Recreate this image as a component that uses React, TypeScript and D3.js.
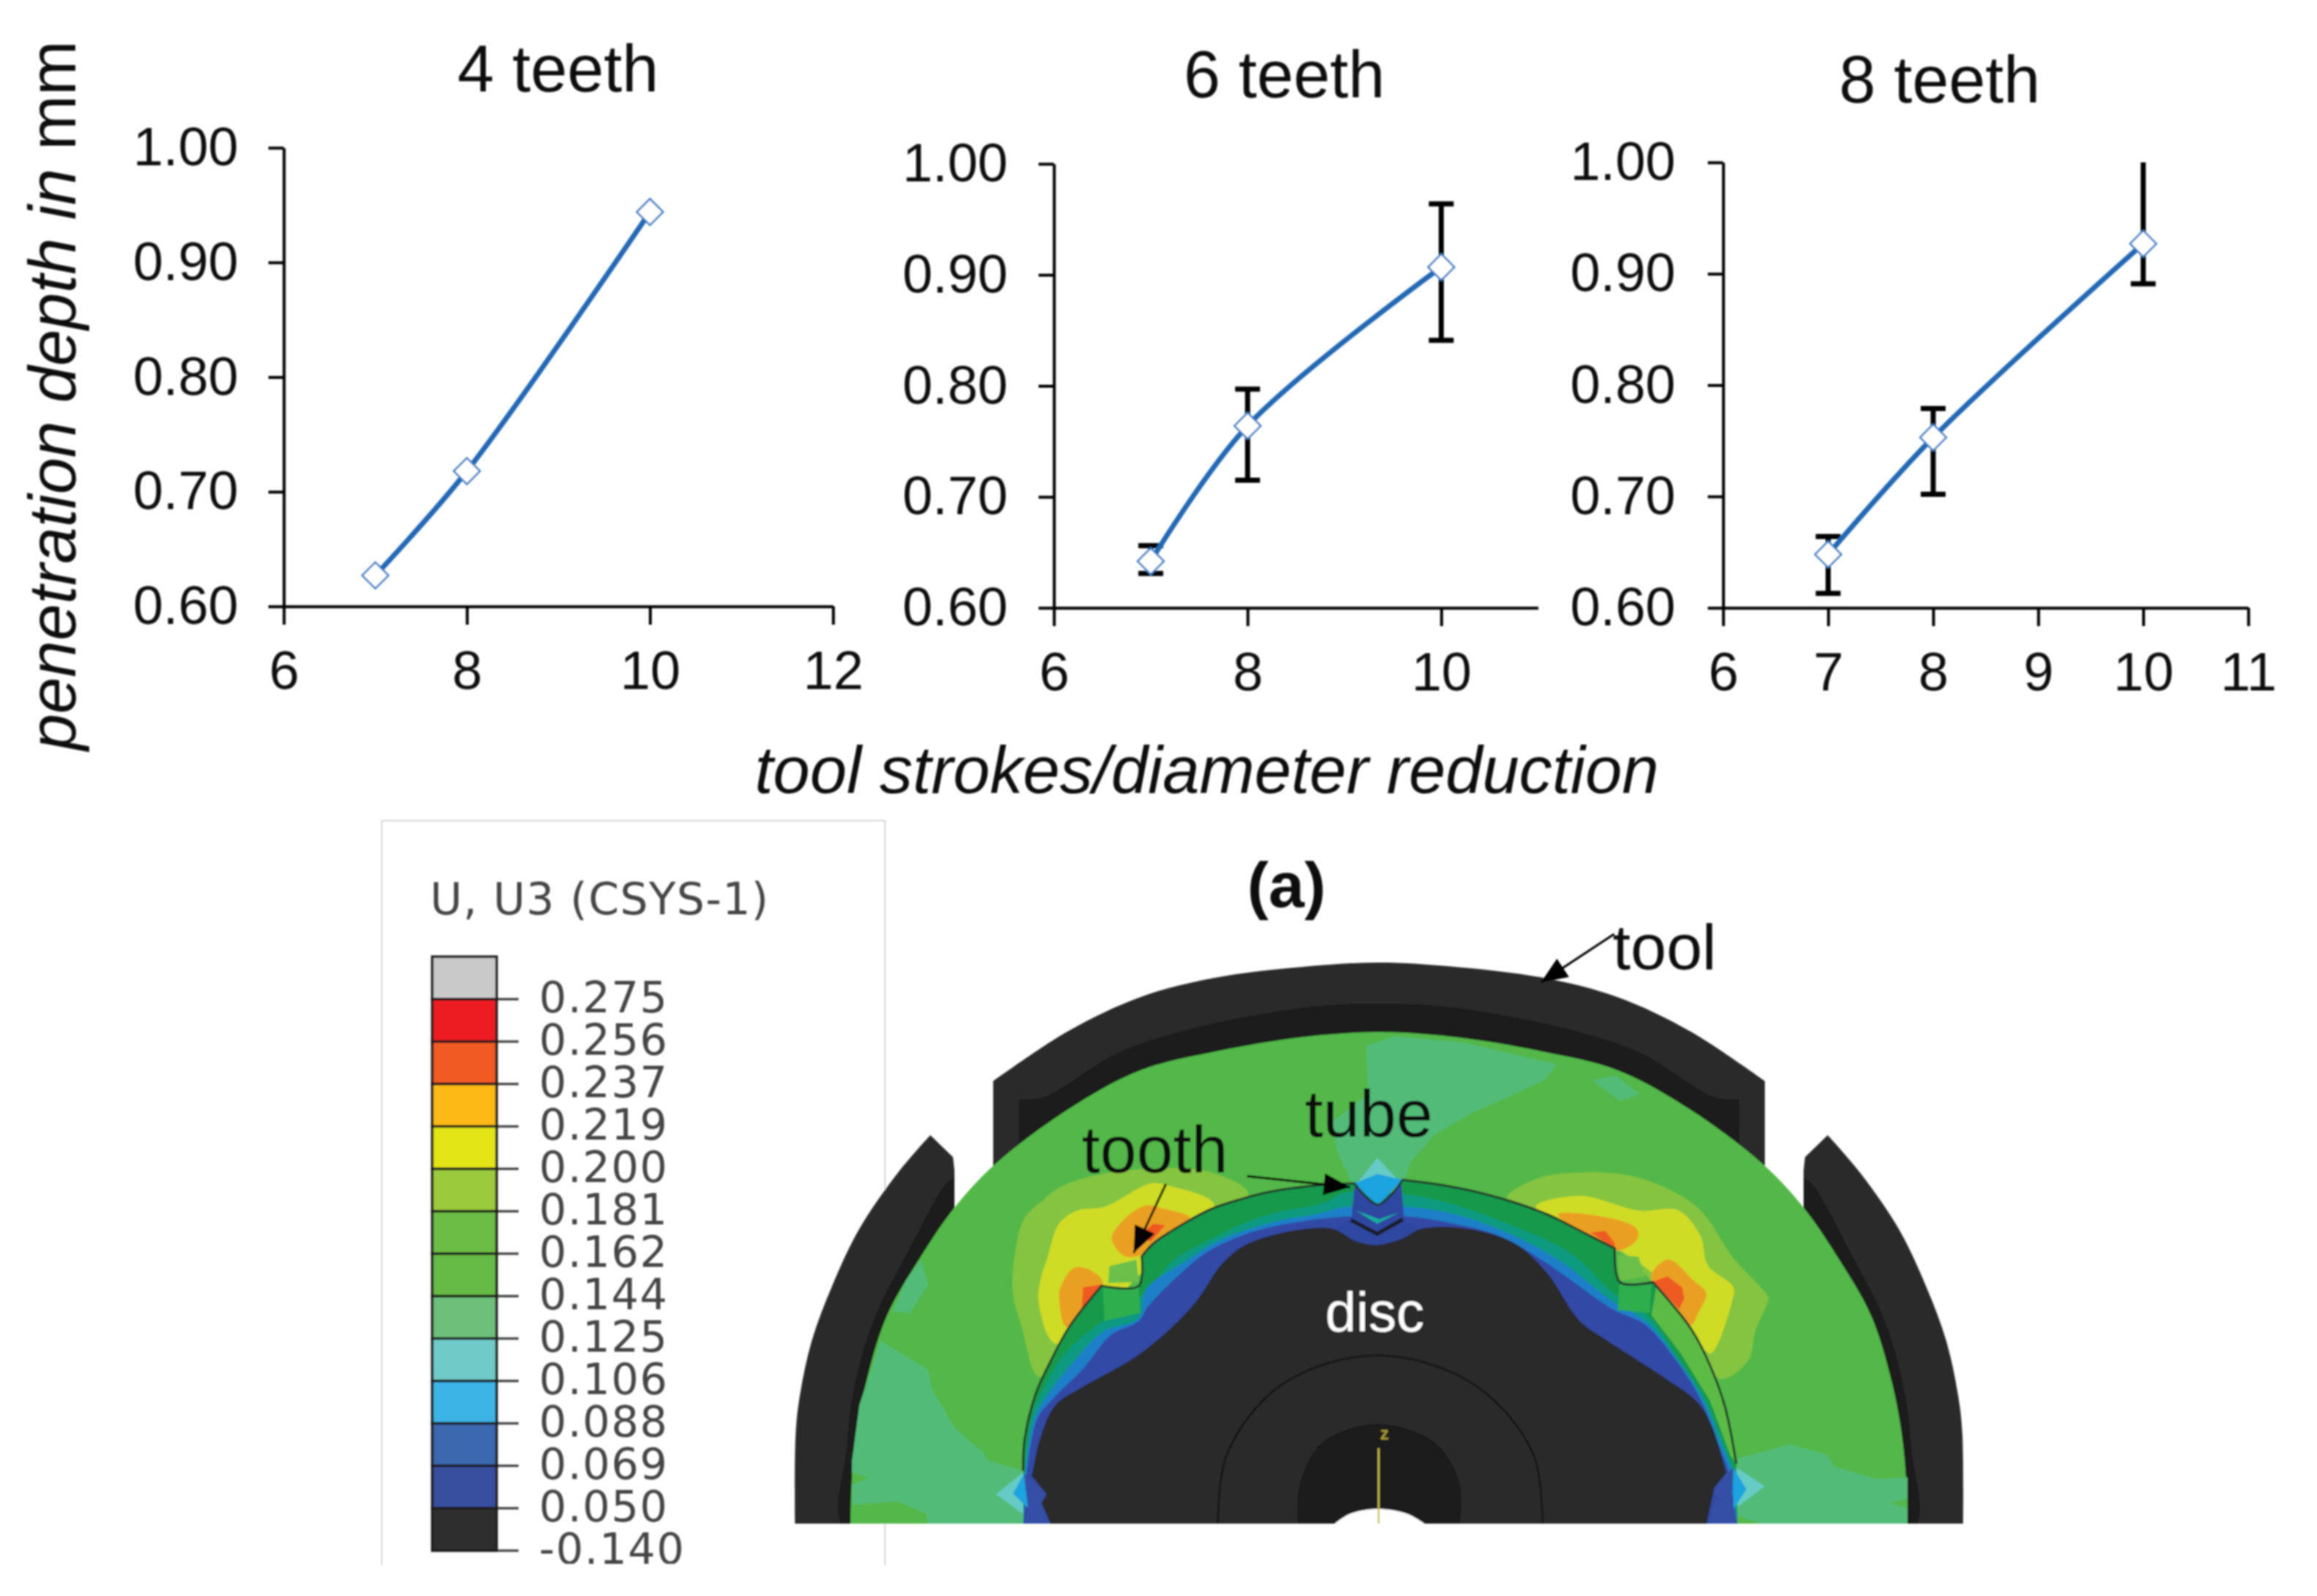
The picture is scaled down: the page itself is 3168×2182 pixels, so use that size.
import { useEffect, useRef } from "react";
import * as d3 from "d3";

const width = 3168;
const height = 2182;
const font = "'Liberation Sans', Arial, sans-serif";
const blue = "#2468b4";

// chart values
const strokes = [7, 8, 10];
const depth4 = [0.627, 0.718, 0.944];
const depth6 = [0.642, 0.764, 0.907];
const depth8 = [0.648, 0.753, 0.927];
const low6 = [0.631, 0.715, 0.841];
const high6 = [0.656, 0.797, 0.964];
const low8 = [0.613, 0.702, 0.891];
const high8 = [0.664, 0.779, 1.0];
const yTicks = [0.6, 0.7, 0.8, 0.9, 1.0];

// legend of the contour plot
const legendValues = ["0.275", "0.256", "0.237", "0.219", "0.200", "0.181", "0.162", "0.144", "0.125", "0.106", "0.088", "0.069", "0.050", "-0.140"];
const legendColors = ["#c9c9c9", "#ed1c24", "#f15a22", "#fdb913", "#e3e514", "#9bca3c", "#6cbd45", "#66bb46", "#6dbf79", "#6fcbc8", "#3cb4e6", "#3a67ae", "#384f9f", "#2f2f2f"];

type Pt = [number, number];

// the FE picture is an image in the source, these are its outlines traced on the page
const axisX = 1885.5;
const mirror = (pts: Pt[]): Pt[] => pts.map(([x, y]) => [2 * axisX - x, y] as Pt).reverse();

const toolArcLeft: Pt[] = [[1358, 1478], [1460, 1410], [1560, 1363], [1660, 1337], [1780, 1322], [1885, 1316]];
const toolFacetLeft: Pt[] = [[1393, 1503], [1427, 1500], [1527, 1440], [1627, 1407], [1780, 1378], [1885, 1372]];
const sideOuter: Pt[] = [[1272, 1552], [1228, 1603], [1175, 1680], [1137, 1760], [1110, 1833], [1094, 1906], [1088, 1959], [1087, 2090]];
const sideFacet: Pt[] = [[1305, 1610], [1293, 1619], [1240, 1714], [1194, 1806], [1167, 1902], [1158, 1978], [1154, 2090], [1300, 2090]];
const discEdgeLeft: Pt[] = [[1163, 2090], [1164, 2036], [1171, 1959], [1186, 1883], [1213, 1798], [1259, 1718], [1305, 1651], [1358, 1594], [1460, 1517], [1560, 1463], [1660, 1438], [1780, 1418], [1885, 1411]];

const tealPatches: Pt[][] = [
  [[1868, 1430], [1906, 1417], [2000, 1425], [2128, 1455], [2112, 1477], [2014, 1521], [1960, 1552], [1928, 1590], [1917, 1625], [1852, 1625], [1830, 1578], [1820, 1535], [1871, 1496]],
  [[2177, 1477], [2210, 1471], [2242, 1496], [2215, 1505]],
  [[1259, 1722], [1269, 1756], [1244, 1795], [1221, 1793], [1238, 1752]],
  [[1204, 1833], [1269, 1873], [1274, 1898], [1305, 1952], [1345, 1986], [1351, 1997], [1399, 2011], [1399, 2090], [1269, 2090], [1267, 2070], [1228, 2053], [1165, 2057], [1165, 1997], [1175, 1921]],
  [[2376, 1994], [2447, 1975], [2497, 1988], [2508, 2005], [2566, 2022], [2608, 2020], [2608, 2090], [2376, 2090]],
];
const greenIslets: Pt[][] = [
  [[1165, 2013], [1188, 2020], [1165, 2030]],
  [[2583, 2055], [2608, 2049], [2608, 2062]],
  [[2376, 2072], [2425, 2090], [2376, 2090]],
];
const lobeA: Pt[][] = [
  [[1707, 1633], [1653, 1602], [1570, 1598], [1493, 1608], [1450, 1623], [1427, 1640], [1400, 1667], [1387, 1720], [1385, 1768], [1397, 1814], [1422, 1883], [1500, 1800], [1600, 1700]],
  [[2060, 1640], [2100, 1612], [2160, 1603], [2240, 1610], [2320, 1650], [2370, 1720], [2416, 1770], [2418, 1775], [2400, 1820], [2390, 1860], [2352, 1885], [2300, 1800], [2200, 1700]],
];
const lobeB: Pt[][] = [
  [[1660, 1647], [1593, 1620], [1573, 1618], [1510, 1650], [1473, 1655], [1448, 1673], [1432, 1720], [1424, 1745], [1420, 1779], [1443, 1837], [1500, 1800], [1600, 1700]],
  [[2100, 1650], [2160, 1635], [2240, 1655], [2295, 1655], [2325, 1690], [2335, 1730], [2370, 1760], [2368, 1780], [2340, 1850], [2330, 1845], [2280, 1760], [2200, 1700]],
];
const lobeC: Pt[][] = [
  [[1627, 1665], [1593, 1653], [1567, 1648], [1537, 1667], [1520, 1693], [1537, 1717], [1557, 1717], [1600, 1690]],
  [[1508, 1754], [1492, 1737], [1469, 1733], [1450, 1760], [1448, 1776], [1458, 1814], [1490, 1785]],
  [[2130, 1660], [2200, 1665], [2238, 1680], [2238, 1695], [2210, 1710], [2170, 1690]],
  [[2258, 1750], [2262, 1735], [2282, 1722], [2315, 1750], [2333, 1768], [2322, 1795], [2312, 1812], [2285, 1785]],
];
const lobeD: Pt[][] = [
  [[1593, 1675], [1577, 1673], [1560, 1687], [1573, 1698]],
  [[1506, 1756], [1481, 1760], [1479, 1791]],
  [[2175, 1685], [2195, 1683], [2208, 1700], [2208, 1707]],
  [[2260, 1752], [2280, 1745], [2300, 1760], [2303, 1775], [2296, 1790]],
];

// thin tube outline, broken at the tooth notches
const tubeArcParts: Pt[][] = [
  [[1399, 2011], [1401, 1967], [1416, 1906], [1437, 1860], [1462, 1814], [1506, 1758]],
  [[1506, 1758], [1557, 1758], [1561, 1718]],
  [[1561, 1718], [1577, 1700], [1620, 1672], [1656, 1653], [1695, 1640], [1733, 1630], [1796, 1621], [1852, 1618]],
  [[1852, 1618], [1884, 1647], [1918, 1613]],
  [[1918, 1613], [1988, 1623], [2051, 1638], [2115, 1660], [2165, 1685], [2208, 1707]],
  [[2208, 1707], [2215, 1753], [2260, 1753]],
  [[2260, 1753], [2313, 1818], [2340, 1871], [2359, 1925], [2374, 2001]],
];
const tubeTeal: Pt[] = [[1401, 2011], [1410, 1940], [1427, 1898], [1458, 1848], [1508, 1806], [1561, 1772], [1605, 1723], [1658, 1693], [1707, 1670], [1745, 1658], [1809, 1645], [1841, 1630], [1924, 1633], [1988, 1647], [2071, 1677], [2147, 1713], [2205, 1767], [2256, 1802], [2294, 1856], [2332, 1913], [2359, 1978], [2370, 2005]];
const tubeBlue: Pt[] = [[1402, 2011], [1414, 1940], [1433, 1906], [1466, 1864], [1508, 1821], [1557, 1802], [1567, 1763], [1620, 1725], [1669, 1695], [1745, 1670], [1800, 1660], [1841, 1650], [1924, 1650], [1988, 1660], [2060, 1685], [2130, 1722], [2206, 1780], [2250, 1806], [2290, 1854], [2328, 1913], [2355, 1978], [2367, 2005]];
const tubeDark: Pt[] = [[1404, 2013], [1418, 1940], [1439, 1913], [1481, 1871], [1519, 1825], [1557, 1806], [1569, 1787], [1610, 1745], [1650, 1712], [1701, 1688], [1745, 1676], [1816, 1665], [1847, 1663], [1924, 1663], [1988, 1673], [2051, 1690], [2115, 1727], [2205, 1790], [2248, 1810], [2286, 1852], [2325, 1913], [2351, 1978], [2363, 2009]];
const rightLight: Pt[] = [[2265, 1758], [2313, 1818], [2340, 1871], [2359, 1925], [2374, 2001], [2366, 1990], [2338, 1915], [2298, 1850], [2258, 1798]];
const noseColumn: Pt[] = [[1852, 1622], [1884, 1648], [1916, 1618], [1920, 1670], [1945, 1682], [1883, 1712], [1822, 1682], [1848, 1665]];
const discBody: Pt[] = [[1412, 2013], [1422, 1967], [1443, 1921], [1477, 1898], [1557, 1852], [1615, 1802], [1640, 1773], [1669, 1730], [1701, 1703], [1765, 1683], [1822, 1680], [1854, 1697], [1883, 1702], [1918, 1693], [1943, 1680], [2007, 1680], [2071, 1700], [2115, 1740], [2160, 1806], [2198, 1833], [2275, 1883], [2321, 1917], [2340, 1948], [2359, 2009]];
const discFootLeft: Pt[] = [[1439, 2090], [1424, 2055], [1431, 2043], [1410, 2017]];
const discFootRight: Pt[] = [[2361, 2013], [2344, 2034], [2342, 2043], [2332, 2090]];

const notchCyan: Pt[][] = [
  [[1854, 1620], [1883, 1583], [1914, 1616]],
  [[1362, 2043], [1399, 2013], [1399, 2070]],
  [[2372, 2005], [2413, 2032], [2372, 2063]],
];
const notchBlue: Pt[][] = [
  [[1851, 1618], [1883, 1605], [1918, 1613], [1884, 1647]],
  [[1385, 2042], [1400, 2015], [1406, 2062]],
  [[2370, 2007], [2388, 2036], [2370, 2063]],
];
const notchDark: Pt[][] = [
  [[1400, 2015], [1431, 2042], [1406, 2066]],
  [[1399, 2090], [1406, 2062], [1427, 2047], [1439, 2090]],
  [[2361, 2013], [2344, 2034], [2344, 2043], [2367, 2063], [2370, 2007]],
  [[2334, 2090], [2346, 2047], [2372, 2066], [2376, 2090]],
];
const toothLight: Pt[][] = [
  [[1517, 1731], [1554, 1722], [1557, 1753], [1515, 1754]],
  [[2212, 1716], [2240, 1718], [2250, 1745], [2215, 1751]],
];
const toothLow: Pt[][] = [
  [[1508, 1760], [1557, 1760], [1559, 1795], [1510, 1806]],
  [[2214, 1756], [2258, 1756], [2256, 1795], [2212, 1791]],
];
const noseChevron: Pt[] = [[1854, 1655], [1883, 1673], [1914, 1657], [1886, 1667]];
const noseBlack: Pt[] = [[1847, 1668], [1883, 1687], [1918, 1667]];
const hubEdge: Pt[] = [[1665, 2095], [1678, 1987], [1754, 1892], [1884, 1853], [2014, 1892], [2096, 1987], [2109, 2095]];
const boreEdge: Pt[] = [[1776, 2095], [1778, 2031], [1808, 1974], [1884, 1948], [1962, 1974], [1995, 2031], [1993, 2095]];
const boreHole: Pt[] = [[1814, 2092], [1845, 2070], [1884, 2063], [1925, 2070], [1960, 2092]];

// leader lines, from label to tip
const leaders: [Pt, Pt][] = [
  [[2207, 1277], [2107, 1343]],
  [[1705, 1608], [1846, 1623]],
  [[1594, 1619], [1550, 1713]],
];

const sharp = d3.line<Pt>();
const soft = d3.line<Pt>().curve(d3.curveCatmullRom.alpha(0.5));
const blob = d3.line<Pt>().curve(d3.curveCatmullRomClosed.alpha(0.5));

const diamond = d3.symbol(d3.symbolSquare, 640)();

type PanelProps = {
  title: string;
  titleX: number;
  titleY: number;
  left: number;
  right: number;
  top: number;
  bottom: number;
  xMax: number;
  xTicks: number[];
  values: number[];
  low?: number[];
  high?: number[];
  padY: number;
};

const Panel = ({ title, titleX, titleY, left, right, top, bottom, xMax, xTicks, values, low, high, padY }: PanelProps) => {
  const xRef = useRef<SVGGElement>(null);
  const yRef = useRef<SVGGElement>(null);
  const x = d3.scaleLinear().domain([6, xMax]).range([left, right]);
  const y = d3.scaleLinear().domain([0.6, 1]).range([bottom, top]);

  useEffect(() => {
    const xAxis = d3.axisBottom(x).tickValues(xTicks).tickFormat(d3.format("d") as any).tickSizeInner(25).tickSizeOuter(0).tickPadding(35);
    const yAxis = d3.axisLeft(y).tickValues(yTicks).tickFormat(d3.format(".2f") as any).tickSizeInner(21).tickSizeOuter(0).tickPadding(padY);
    [d3.select(xRef.current!).call(xAxis as any), d3.select(yRef.current!).call(yAxis as any)].forEach((g: any) => {
      g.attr("font-family", font).attr("font-size", 74);
      g.selectAll("path,line").attr("stroke", "#000").attr("stroke-width", 4);
      g.selectAll("text").attr("fill", "#111");
    });
  }, []);

  const line = d3.line<number>().x((_, i) => x(strokes[i])).y((d) => y(d)).curve(d3.curveCatmullRom.alpha(0.5));

  return (
    <g>
      <text x={titleX} y={titleY} textAnchor="middle" fontFamily={font} fontSize={90} fill="#111">{title}</text>
      <g ref={xRef} transform={`translate(0,${bottom})`} />
      <g ref={yRef} transform={`translate(${left},0)`} />
      {low && high && strokes.map((s, i) => (
        <g key={s} stroke="#000" strokeWidth={7}>
          <line x1={x(s)} x2={x(s)} y1={y(low[i])} y2={y(high[i])} />
          <line x1={x(s) - 17} x2={x(s) + 17} y1={y(low[i])} y2={y(low[i])} />
          {high[i] < 1 && <line x1={x(s) - 17} x2={x(s) + 17} y1={y(high[i])} y2={y(high[i])} />}
        </g>
      ))}
      <path d={line(values) ?? ""} fill="none" stroke={blue} strokeWidth={7} />
      {strokes.map((s, i) => (
        <path key={s} d={diamond ?? ""} transform={`translate(${x(s)},${y(values[i])}) rotate(45)`} fill="#fff" stroke="#3b7cc4" strokeWidth={2.5} />
      ))}
    </g>
  );
};

const Legend = () => {
  const cells = d3.scaleBand<string>().domain(legendValues).range([1308, 2120]);
  const step = cells.step();
  return (
    <g>
      <path d="M522,2140V1122H1210V2140" fill="none" stroke="#d4d4d4" strokeWidth={2} />
      <text x={588} y={1250} fontFamily="'DejaVu Sans'" fontSize={60} letterSpacing={1.4} fill="#444">U, U3 (CSYS-1)</text>
      <clipPath id="legendClip"><rect x={522} y={1119} width={690} height={1019} /></clipPath>
      <g clipPath="url(#legendClip)">
        {legendValues.map((v, i) => {
          const y0 = cells(v)!;
          return (
            <g key={v}>
              <rect x={591} y={y0} width={88} height={step} fill={legendColors[i]} stroke="#1c1c1c" strokeWidth={3.5} />
              <line x1={680} x2={709} y1={y0 + step} y2={y0 + step} stroke="#333" strokeWidth={3} />
              <text x={737} y={y0 + step + 18} fontFamily="'DejaVu Sans'" fontSize={59} letterSpacing={1.6} fill="#444">{v}</text>
            </g>
          );
        })}
      </g>
    </g>
  );
};

const arrowHead = (from: Pt, to: Pt) => {
  const a = Math.atan2(to[1] - from[1], to[0] - from[0]);
  const len = 36, half = 15;
  const bx = to[0] - len * Math.cos(a), by = to[1] - len * Math.sin(a);
  return `M${to[0]},${to[1]}L${bx - half * Math.sin(a)},${by + half * Math.cos(a)}L${bx + half * Math.sin(a)},${by - half * Math.cos(a)}Z`;
};

const closedSoft = (pts: Pt[]) => soft(pts) + "Z";
const closedSharp = (pts: Pt[]) => sharp(pts) + "Z";
const discEdge = [...discEdgeLeft, ...mirror(discEdgeLeft).slice(1)];
const toolArc = [...toolArcLeft, ...mirror(toolArcLeft).slice(1)];
const toolFacet = [...toolFacetLeft, ...mirror(toolFacetLeft).slice(1)];

// smooth stretches joined end to end, corners stay sharp at the joins
const tubeArcPath = tubeArcParts.map((p, i) => (i === 0 ? soft(p) : soft(p)!.replace(/^M/, "L"))).join("");
const bandPath = (pts: Pt[]) => soft(pts) + "L2376,2090L1399,2090Z";
const discPath = sharp(discFootLeft) + soft(discBody)!.replace(/^M/, "L") + sharp(discFootRight)!.replace(/^M/, "L") + "Z";

const Contours = () => (
  <g clipPath="url(#feClip)">
    <clipPath id="feClip"><rect x={1060} y={1200} width={1700} height={883} /></clipPath>

    {/* tool */}
    <path d={soft(toolArc) + `L${2 * axisX - 1358},1720L1358,1720Z`} fill="#2b2b2b" />
    <path d={soft(toolFacet) + `L${2 * axisX - 1393},1720L1393,1720Z`} fill="#1d1d1d" />
    {[sideOuter, mirror(sideOuter)].map((p, i) => (
      <path key={i} d={soft(p) + (i === 0
        ? "L1300,2090L1305,1651L1305,1600L1303,1582Z"
        : `L${2 * axisX - 1303},1582L${2 * axisX - 1305},1600L${2 * axisX - 1305},1651L${2 * axisX - 1300},2090Z`)} fill="#2b2b2b" />
    ))}
    {[sideFacet, mirror(sideFacet)].map((p, i) => <path key={i} d={closedSoft(p)} fill="#1a1a1a" />)}

    {/* tube, outer field */}
    <path d={closedSoft(discEdge)} fill="#52b848" />
    {tealPatches.map((p, i) => <path key={i} d={closedSharp(p)} fill="#52bb78" />)}
    {greenIslets.map((p, i) => <path key={i} d={closedSharp(p)} fill="#52b848" />)}
    {lobeA.map((p, i) => <path key={i} d={blob(p) ?? ""} fill="#85c440" />)}
    {lobeB.map((p, i) => <path key={i} d={blob(p) ?? ""} fill="#cfdc26" />)}
    {lobeC.map((p, i) => <path key={i} d={blob(p) ?? ""} fill="#e9a023" />)}
    {lobeD.map((p, i) => <path key={i} d={closedSharp(p)} fill="#ee5a24" />)}

    {/* tube, bands next to the disc */}
    {notchCyan.map((p, i) => <path key={i} d={closedSharp(p)} fill="#66cbc4" />)}
    <path d={tubeArcPath + "L2376,2090L1399,2090Z"} fill="#17994b" />
    <path d={closedSharp(rightLight)} fill="#5cbb45" />
    <path d={bandPath(tubeTeal)} fill="#0f9a80" />
    <path d={bandPath(tubeBlue)} fill="#1e7fc8" />
    <path d={bandPath(tubeDark)} fill="#3349a5" />
    {toothLight.map((p, i) => <path key={i} d={closedSharp(p)} fill="#6cc04a" />)}
    {toothLow.map((p, i) => <path key={i} d={closedSharp(p)} fill="#2fae4e" />)}
    <path d={closedSharp(noseColumn)} fill="#2d47a0" />
    {notchBlue.map((p, i) => <path key={i} d={closedSharp(p)} fill="#1fa3e0" />)}
    {notchDark.map((p, i) => <path key={i} d={closedSharp(p)} fill="#3450a6" />)}
    <path d={tubeArcPath} fill="none" stroke="#23382a" strokeWidth={3} />
    <path d={closedSharp(noseChevron)} fill="#18b0a0" />
    <path d={sharp(noseBlack) ?? ""} fill="none" stroke="#1b1b1b" strokeWidth={5} />

    {/* disc */}
    <path d={discPath} fill="#2c2c2c" />
    <path d={closedSoft(boreEdge)} fill="#1e1e1e" stroke="#181818" strokeWidth={2} />
    <path d={soft(hubEdge) ?? ""} fill="none" stroke="#161616" strokeWidth={3} />
    <path d={closedSoft(boreHole)} fill="#fff" />
    <line x1={1885} x2={1885} y1={1980} y2={2083} stroke="#c8c050" strokeWidth={2.5} />
    <text x={1893} y={1968} textAnchor="middle" fontFamily={font} fontSize={24} fontWeight="bold" fill="#a89a30">z</text>
  </g>
);

const App = () => (
  <svg width={width} height={height} style={{ position: "absolute", left: 0, top: 0, display: "block", background: "#fff" }}>
    <defs>
      <filter id="soften" x="0" y="0" width="100%" height="100%"><feGaussianBlur stdDeviation={1} /></filter>
    </defs>
    <g filter="url(#soften)">
      <text transform="translate(103,1026) rotate(-90)" fontFamily={font} fontSize={90} fill="#111">
        <tspan fontStyle="italic">penetration depth in</tspan> mm
      </text>
      <text x={1032} y={1084} fontFamily={font} fontSize={90.4} fontStyle="italic" fill="#111">tool strokes/diameter reduction</text>

      <Panel title="4 teeth" titleX={763} titleY={125} left={388} right={1139} top={202} bottom={829} xMax={12} xTicks={[6, 8, 10, 12]} values={depth4} padY={41} />
      <Panel title="6 teeth" titleX={1756} titleY={133} left={1441} right={2103} top={224} bottom={831} xMax={11} xTicks={[6, 8, 10]} values={depth6} low={low6} high={high6} padY={42} />
      <Panel title="8 teeth" titleX={2652} titleY={140} left={2356} right={3074} top={222} bottom={831} xMax={11} xTicks={[6, 7, 8, 9, 10, 11]} values={depth8} low={low8} high={high8} padY={44} />

      <Legend />
      <Contours />

      {leaders.map(([from, to], i) => (
        <g key={i}>
          <line x1={from[0]} y1={from[1]} x2={to[0]} y2={to[1]} stroke="#000" strokeWidth={3} />
          <path d={arrowHead(from, to)} fill="#000" />
        </g>
      ))}
      <text x={1759} y={1240} textAnchor="middle" fontFamily={font} fontSize={88} fontWeight="bold" fill="#111">(a)</text>
      <text x={2205} y={1325} fontFamily={font} fontSize={88} fill="#111">tool</text>
      <text x={1784} y={1554} fontFamily={font} fontSize={90} fill="#111">tube</text>
      <text x={1479} y={1603} fontFamily={font} fontSize={90} fill="#111">tooth</text>
      <text x={1812} y={1820} fontFamily={font} fontSize={76} fill="#fff">disc</text>
    </g>
  </svg>
);

export default App;
